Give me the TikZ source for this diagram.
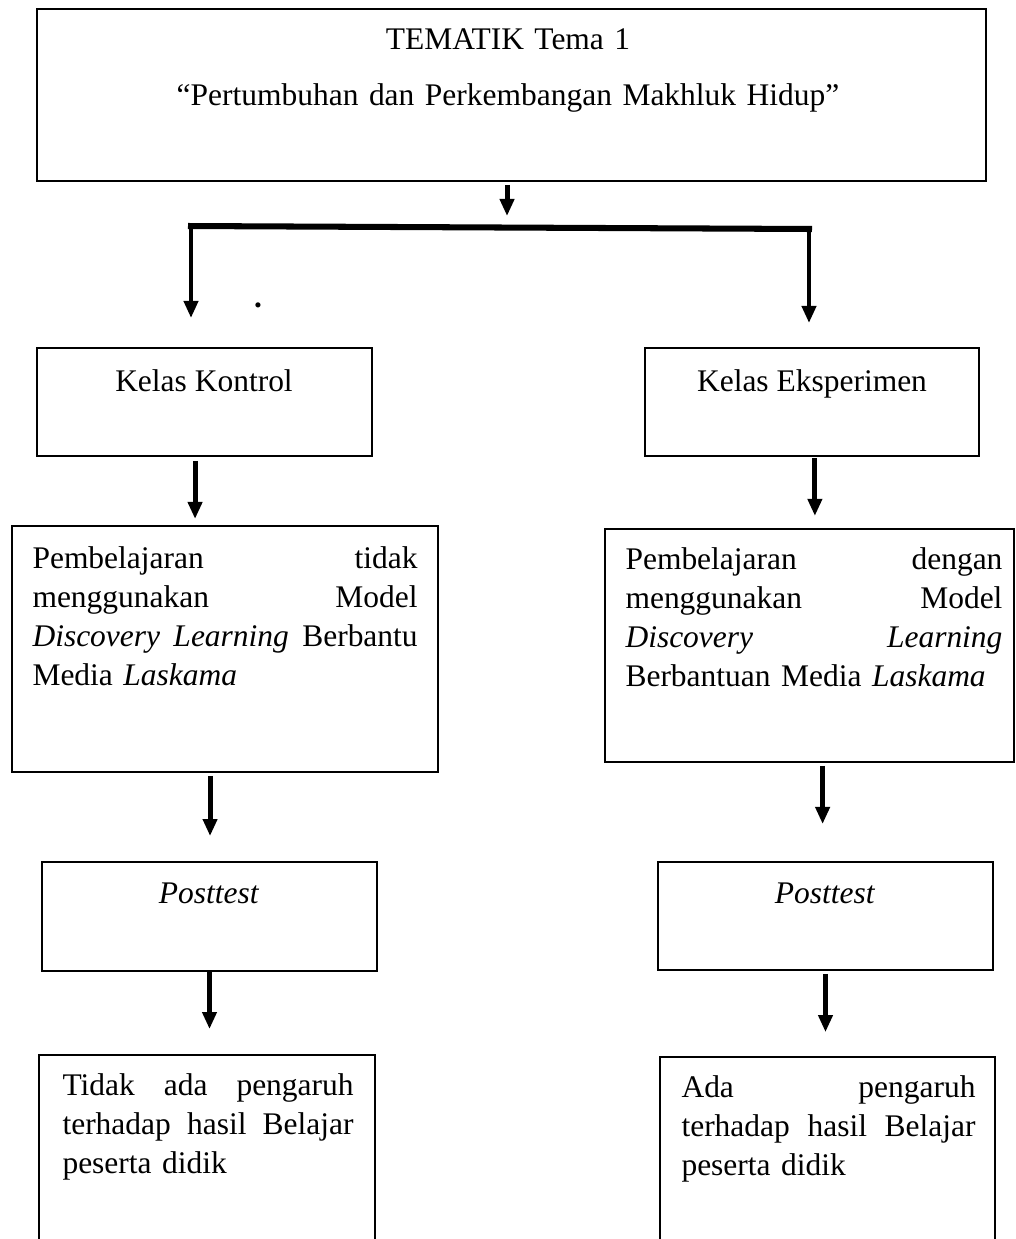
\documentclass[tikz,border=0pt]{standalone}
\usepackage{fontspec}
\setmainfont{Liberation Serif}
\usetikzlibrary{arrows.meta}

\begin{document}
\begin{tikzpicture}[x=0.0134cm,y=-0.0134cm,
  box/.style={draw,line width=0.76pt,rectangle,inner sep=0pt},
  arr/.style={line width=1.9pt,-{Triangle[width=5.3pt,length=6.5pt]}},
  txt/.style={inner sep=0pt,font=\fontsize{12}{14.9}\selectfont},
  para/.style={txt,anchor=base west,align=left}]
\clip (0,0) rectangle (1016,1239);

% kotak
\node[box,minimum width=12.717cm,minimum height=2.305cm] (tema) at (511.5,95) {};
\node[box,minimum width=4.489cm,minimum height=1.447cm] (kontrol) at (204.5,402) {};
\node[box,minimum width=4.476cm,minimum height=1.447cm] (eksp) at (812,402) {};
\node[box,minimum width=5.708cm,minimum height=3.296cm] (pkontrol) at (225,649) {};
\node[box,minimum width=5.481cm,minimum height=3.122cm] (peksp) at (809.5,645.5) {};
\node[box,minimum width=4.489cm,minimum height=1.461cm] (postL) at (209.5,916.5) {};
\node[box,minimum width=4.489cm,minimum height=1.447cm] (postR) at (825.5,916) {};
\node[box,minimum width=4.502cm,minimum height=3.149cm] (hasilL) at (207,1172.5) {};
\node[box,minimum width=4.489cm,minimum height=3.122cm] (hasilR) at (827.5,1173.5) {};

% teks
\node[txt,anchor=base,text width=12cm,align=center,font=\fontsize{12}{21.7}\selectfont] (tema-t) at (508,49)
  {TEMATIK Tema 1\\“Pertumbuhan dan Perkembangan Makhluk Hidup”};
\node[txt,anchor=base] (kontrol-t) at (204,391) {Kelas Kontrol};
\node[txt,anchor=base] (eksp-t) at (812,391) {Kelas Eksperimen};
\node[para,text width=5.16cm] (pkontrol-t) at (32,568)
  {Pembelajaran\hfill tidak\\
   menggunakan\hfill Model\\
   \textit{Discovery}\hfill\textit{Learning}\hfill Berbantu\\
   Media \textit{Laskama}};
\node[para,text width=5.05cm] (peksp-t) at (625,569)
  {Pembelajaran\hfill dengan\\
   menggunakan\hfill Model\\
   \textit{Discovery}\hfill\textit{Learning}\\
   Berbantuan Media \textit{Laskama}};
\node[txt,anchor=base] (postL-t) at (209,903) {\textit{Posttest}};
\node[txt,anchor=base] (postR-t) at (825,903) {\textit{Posttest}};
\node[para,text width=3.90cm] (hasilL-t) at (62,1095)
  {Tidak\hfill ada\hfill pengaruh\\
   terhadap\hfill hasil\hfill Belajar\\
   peserta didik};
\node[para,text width=3.94cm] (hasilR-t) at (681,1097)
  {Ada\hfill pengaruh\\
   terhadap\hfill hasil\hfill Belajar\\
   peserta didik};
\node[txt,anchor=base] (titik) at (258,307) {\textbf{.}};

% cabang
\coordinate (barL) at (188,226);
\coordinate (barR) at (812,229);
\coordinate (kiri) at (191,318);
\coordinate (kanan) at (809,323);
\draw[arr,shorten <=1.1pt,shorten >=3.8pt] ([xshift=-1.7pt]tema.south) -- ([xshift=-1.7pt]tema.south |- barL);
\draw[line width=2.3pt] (barL) -- (barR);
\draw[arr] (kiri |- barL) -- (kiri);
\draw[arr] (kanan |- barR) -- (kanan);

% panah
\draw[arr,shorten <=1.5pt,shorten >=2.3pt] ([xshift=-3.6pt]kontrol.south) -- ([xshift=-3.6pt]kontrol.south |- pkontrol.north);
\draw[arr,shorten <=0.4pt,shorten >=4.6pt] ([xshift=1.1pt]eksp.south) -- ([xshift=1.1pt]eksp.south |- peksp.north);
\draw[arr,shorten <=1.1pt,shorten >=9.5pt] ([xshift=-5.7pt]pkontrol.south) -- ([xshift=-5.7pt]pkontrol.south |- postL.north);
\draw[arr,shorten <=1.1pt,shorten >=14.1pt] ([xshift=5pt]peksp.south) -- ([xshift=5pt]peksp.south |- postR.north);
\draw[arr,shorten >=9.5pt] (postL.south) -- (postL.south |- hasilL.north);
\draw[arr,shorten <=1.1pt,shorten >=9.1pt] (postR.south) -- (postR.south |- hasilR.north);
\end{tikzpicture}
\end{document}
